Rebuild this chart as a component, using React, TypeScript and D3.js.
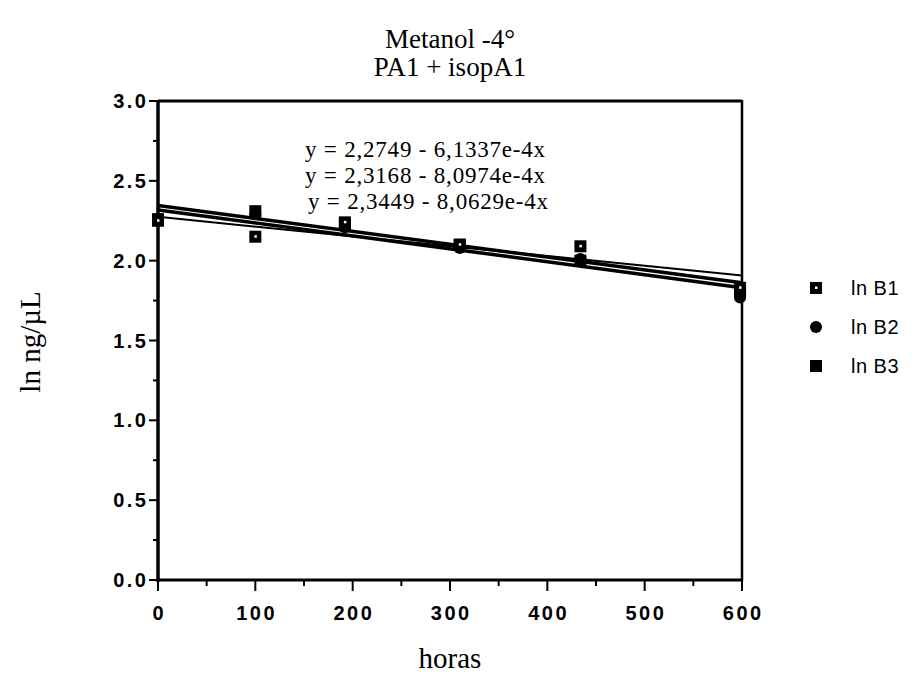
import React from "react";
import * as d3 from "d3";

const hours = [0, 100, 192, 310, 434, 598];
const lnB1 = [2.25, 2.15, 2.24, 2.1, 2.09, 1.83];
const lnB2 = [2.26, 2.29, 2.21, 2.08, 2.01, 1.77];
const lnB3 = [2.26, 2.31, 2.23, 2.1, 2.0, 1.8];
const seriesNames = ["ln B1", "ln B2", "ln B3"];
const fitIntercepts = [2.2749, 2.3168, 2.3449];
const fitSlopes = [-6.1337e-4, -8.0974e-4, -8.0629e-4];
const fitLabels = [
  "y = 2,2749 - 6,1337e-4x",
  "y = 2,3168 - 8,0974e-4x",
  "y = 2,3449 - 8,0629e-4x",
];
const xTicks = [0, 100, 200, 300, 400, 500, 600];
const yTicks = [0, 0.5, 1.0, 1.5, 2.0, 2.5, 3.0];

export default function App() {
  const W = 916, H = 683;
  const x = d3.scaleLinear().domain([0, 600]).range([158, 742]);
  const y = d3.scaleLinear().domain([0, 3]).range([580, 101]);
  const serif = "'Liberation Serif', 'Times New Roman', serif";
  const sans = "'Liberation Sans', Arial, sans-serif";
  const all = [lnB1, lnB2, lnB3];
  const xMinor = d3.range(50, 600, 100);
  const yMinor = d3.range(0.25, 3, 0.5);
  const line = d3.line<number[]>().x((d) => x(d[0])).y((d) => y(d[1]));
  const fitWidths = [2, 3.5, 3.5];

  const marker = (k: number, cx: number, cy: number, key: string) => {
    if (k === 1) return <circle key={key} cx={cx} cy={cy} r={6} fill="#000" />;
    return (
      <g key={key}>
        <rect x={cx - 6} y={cy - 6} width={12} height={12} fill="#000" />
        {k === 0 && <rect x={cx - 1} y={cy - 1.5} width={2.5} height={2.5} fill="#fff" />}
      </g>
    );
  };

  const ls = 2.5;

  return (
    <svg width={W} height={H} style={{ position: "absolute", left: 0, top: 0, background: "#fff" }}>
      <rect width={W} height={H} fill="#fff" />
      <text x={450} y={48} textAnchor="middle" fontFamily={serif} fontSize={27}>Metanol -4°</text>
      <text x={450} y={76} textAnchor="middle" fontFamily={serif} fontSize={27}>PA1 + isopA1</text>

      {/* frame */}
      <line x1={158} x2={742} y1={101} y2={101} stroke="#000" strokeWidth={3} />
      <line x1={742} x2={742} y1={100} y2={581} stroke="#000" strokeWidth={2.5} />
      <line x1={158} x2={742} y1={580} y2={580} stroke="#000" strokeWidth={3} />
      <line x1={158} x2={158} y1={100} y2={582} stroke="#000" strokeWidth={3.5} />

      {/* y ticks */}
      {yTicks.map((t) => (
        <g key={"yt" + t}>
          <line x1={149} x2={158} y1={y(t)} y2={y(t)} stroke="#000" strokeWidth={2} />
          <text x={146 + ls} y={y(t) + 7} textAnchor="end" fontFamily={sans} fontSize={20} fontWeight="bold" letterSpacing={ls}>
            {t.toFixed(1)}
          </text>
        </g>
      ))}
      {yMinor.map((t) => (
        <line key={"ym" + t} x1={153} x2={158} y1={y(t)} y2={y(t)} stroke="#000" strokeWidth={2} />
      ))}
      {/* x ticks */}
      {xTicks.map((t) => (
        <g key={"xt" + t}>
          <line x1={x(t)} x2={x(t)} y1={580} y2={591} stroke="#000" strokeWidth={2} />
          <text x={x(t) + ls / 2} y={620} textAnchor="middle" fontFamily={sans} fontSize={20} fontWeight="bold" letterSpacing={ls}>
            {t}
          </text>
        </g>
      ))}
      {xMinor.map((t) => (
        <line key={"xm" + t} x1={x(t)} x2={x(t)} y1={580} y2={586} stroke="#000" strokeWidth={2} />
      ))}

      {/* fit lines */}
      {fitIntercepts.map((b, i) => (
        <path
          key={"fit" + i}
          d={line([[0, b], [600, b + fitSlopes[i] * 600]]) || ""}
          fill="none"
          stroke="#000"
          strokeWidth={fitWidths[i]}
        />
      ))}

      {/* points */}
      {[2, 1, 0].map((k) => hours.map((h, j) => marker(k, x(h), y(all[k][j]), "m" + k + "-" + j)))}

      {/* equations */}
      {fitLabels.map((s, i) => (
        <text key={"eq" + i} x={i === 2 ? 308 : 305} y={157 + i * 26} fontFamily={serif} fontSize={23} letterSpacing={0.8}>
          {s}
        </text>
      ))}

      {/* legend */}
      {seriesNames.map((n, k) => (
        <g key={"lg" + k}>
          {marker(k, 816, 288 + k * 39, "lm" + k)}
          <text x={851} y={295 + k * 39} fontFamily={sans} fontSize={20} letterSpacing={0.5}>{n}</text>
        </g>
      ))}

      {/* axis titles */}
      <text x={450} y={668} textAnchor="middle" fontFamily={serif} fontSize={29}>horas</text>
      <text
        transform={`translate(40,342) rotate(-90)`}
        textAnchor="middle"
        fontFamily={serif}
        fontSize={29}
      >
        ln ng/µL
      </text>
    </svg>
  );
}
